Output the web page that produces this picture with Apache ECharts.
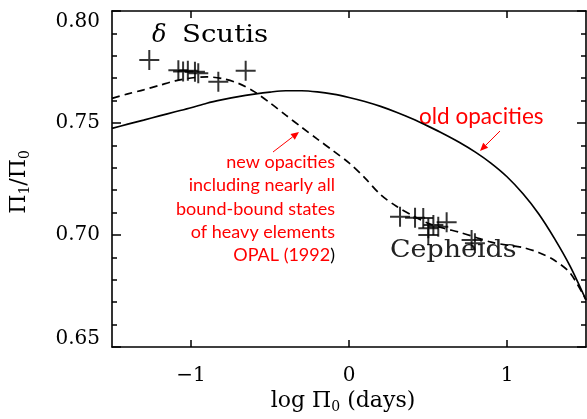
<!DOCTYPE html>
<html><head><meta charset="utf-8">
<script src="https://cdn.jsdelivr.net/npm/echarts@6/dist/echarts.min.js"></script>
<style>html,body{margin:0;padding:0;background:#fff}#c{width:587px;height:419px}</style>
</head><body><div id="c"></div><script>
// ---- data ----
const xTickValues = [-1, 0, 1];
const yTickValues = [0.65, 0.70, 0.75, 0.80];
const logP0 = [-1.5, -1.4, -1.3, -1.2, -1.1, -1.0, -0.9, -0.8, -0.7, -0.6, -0.5, -0.4, -0.3, -0.2, -0.1,
  0.0, 0.1, 0.2, 0.3, 0.4, 0.5, 0.6, 0.7, 0.8, 0.9, 1.0, 1.1, 1.2, 1.3, 1.4, 1.5];
const oldOpacities = [0.7476, 0.7495, 0.7513, 0.7532, 0.7550, 0.7568, 0.7588, 0.7604, 0.7618, 0.7629,
  0.7638, 0.7644, 0.7644, 0.7639, 0.7629, 0.7614, 0.7596, 0.7574, 0.7548, 0.7519, 0.7486, 0.7451,
  0.7413, 0.7370, 0.7320, 0.7260, 0.7185, 0.7095, 0.6985, 0.6860, 0.6710];
const newOpacities = [0.7610, 0.7630, 0.7648, 0.7668, 0.7688, 0.7701, 0.7706, 0.7698, 0.7677, 0.7640,
  0.7590, 0.7535, 0.7481, 0.7428, 0.7376, 0.7322, 0.7255, 0.7180, 0.7128, 0.7088, 0.7052, 0.7030,
  0.7012, 0.6990, 0.6968, 0.6955, 0.6944, 0.6922, 0.6887, 0.6830, 0.6710];
const deltaScuti = [
  [-1.264, 0.7781], [-1.08, 0.7735], [-1.05, 0.7730], [-1.02, 0.7733], [-0.975, 0.7729],
  [-0.954, 0.7722], [-0.827, 0.7684], [-0.654, 0.7733]
];
const cepheids = [
  [0.323, 0.7082], [0.418, 0.7077], [0.47, 0.7076], [0.502, 0.7030], [0.534, 0.7045],
  [0.565, 0.7037], [0.618, 0.7057], [0.502, 0.7000], [0.776, 0.6978], [0.797, 0.6963]
];

// ---- chart ----
const chart = echarts.init(document.getElementById('c'), null, { renderer: 'canvas' });
const serif = 'DejaVu Serif';
const red = '#ff0000';
const plus = 'path://M18,0H22V18H40V22H22V40H18V22H0V18H18Z';
const axisLine = { show: true, onZero: false, lineStyle: { color: '#000', width: 1.6 } };
const fmtX = v => (v < 0 ? '\u2212' + Math.abs(v) : String(v));
const fmtY = v => {
  const s = v.toFixed(2);
  if (Math.abs(v - 0.80) < 1e-6) return '{t|' + s + '}';
  if (Math.abs(v - 0.65) < 1e-6) return '{b|' + s + '}';
  return s;
};
const pairs = (xs, ys) => xs.map((x, i) => [x, ys[i]]);

function arrow(x1, y1, x2, y2) {
  const dx = x2 - x1, dy = y2 - y1, L = Math.hypot(dx, dy);
  const ux = dx / L, uy = dy / L, px = -uy, py = ux;
  const hl = 8, hw = 3.5;
  const bx = x2 - ux * hl, by = y2 - uy * hl;
  return [
    { type: 'line', shape: { x1, y1, x2: bx, y2: by }, style: { stroke: red, lineWidth: 1 } },
    { type: 'polygon', shape: { points: [[x2, y2], [bx + px * hw, by + py * hw], [bx - px * hw, by - py * hw]] }, style: { fill: red } }
  ];
}

const xBase = {
  type: 'value', min: -1.5, max: 1.5, axisLine,
  axisTick: { show: true, inside: true, length: 7, customValues: xTickValues, lineStyle: { color: '#000', width: 1.5 } },
  splitLine: { show: false }
};
const yBase = {
  type: 'value', min: 0.65, max: 0.80, interval: 0.05, axisLine,
  axisTick: { show: true, inside: true, length: 9, lineStyle: { color: '#000', width: 1.5 } },
  minorTick: { show: true, splitNumber: 5, length: 5, lineStyle: { color: '#000', width: 1.5 } },
  splitLine: { show: false }, minorSplitLine: { show: false }
};
const labelFont = { fontFamily: serif, fontSize: 20, color: '#000' };

chart.setOption({
  animation: false,
  backgroundColor: '#fff',
  grid: { left: 112, right: 1, top: 11, bottom: 72 },
  xAxis: [
    Object.assign({}, xBase, { position: 'bottom',
      axisLabel: Object.assign({ customValues: xTickValues, formatter: fmtX, margin: 19 }, labelFont) }),
    Object.assign({}, xBase, { position: 'top', axisLabel: { show: false } })
  ],
  yAxis: [
    Object.assign({}, yBase, { position: 'left',
      axisLabel: Object.assign({ formatter: fmtY, margin: 12,
        rich: { t: Object.assign({ padding: [22, 0, 0, 0] }, labelFont), b: Object.assign({ padding: [0, 0, 16, 0] }, labelFont) } }, labelFont) }),
    Object.assign({}, yBase, { position: 'right', axisLabel: { show: false } })
  ],
  series: [
    { type: 'line', data: pairs(logP0, oldOpacities), smooth: 0.3, symbol: 'none', lineStyle: { color: '#000', width: 1.7 }, z: 2 },
    { type: 'line', data: pairs(logP0, newOpacities), smooth: 0.3, symbol: 'none', lineStyle: { color: '#000', width: 1.7, type: [8, 5] }, z: 2 },
    { type: 'scatter', data: deltaScuti, symbol: plus, symbolSize: 20, itemStyle: { color: '#000' }, z: 3 },
    { type: 'scatter', data: cepheids, symbol: plus, symbolSize: 20, itemStyle: { color: '#000' }, z: 3 }
  ],
  graphic: [
    { type: 'text', x: 152, y: 36, style: { text: 'δ', font: 'italic 24px "DejaVu Serif"', fill: '#000', verticalAlign: 'middle' } },
    { type: 'text', x: 182, y: 36, scaleX: 1.15, style: { text: 'Scutis', font: '24px "DejaVu Serif"', fill: '#000', verticalAlign: 'middle' } },
    { type: 'text', x: 390, y: 251, scaleX: 1.12, style: { text: 'Cepheids', font: '24px "DejaVu Serif"', fill: '#222', verticalAlign: 'middle' } },
    { type: 'text', x: 419, y: 117, style: { text: 'old opacities', font: '22.5px Lato', fill: red, verticalAlign: 'middle' } },
    { type: 'text', x: 335, y: 150.5, style: {
      text: 'new opacities\nincluding nearly all\nbound-bound states\nof heavy elements\nOPAL (1992{k|)}',
      font: '18px Lato', fill: red, align: 'right', verticalAlign: 'top', lineHeight: 23.3,
      rich: { k: { fill: '#000', font: '18px Lato', lineHeight: 23.3 } } } },
    ...arrow(273, 152, 299, 132),
    ...arrow(500, 131, 480, 151),
    { type: 'text', x: 343, y: 401, style: {
      text: '{a|log Π}{s|0}{a| (days)}', align: 'center', verticalAlign: 'middle',
      rich: { a: { font: '22px "DejaVu Serif"', fill: '#000', lineHeight: 34, verticalAlign: 'middle' },
              s: { font: '14px "DejaVu Serif"', fill: '#000', lineHeight: 14, verticalAlign: 'bottom', padding: [0, 0, 4, 0] } } } },
    { type: 'text', x: 19, y: 182, rotation: Math.PI / 2, style: {
      text: '{a|Π}{s|1}{a|/Π}{s|0}', align: 'center', verticalAlign: 'middle',
      rich: { a: { font: '22px "DejaVu Serif"', fill: '#000', lineHeight: 34, verticalAlign: 'middle' },
              s: { font: '14px "DejaVu Serif"', fill: '#000', lineHeight: 14, verticalAlign: 'bottom', padding: [0, 0, 4, 0] } } } }
  ]
});
</script></body></html>
